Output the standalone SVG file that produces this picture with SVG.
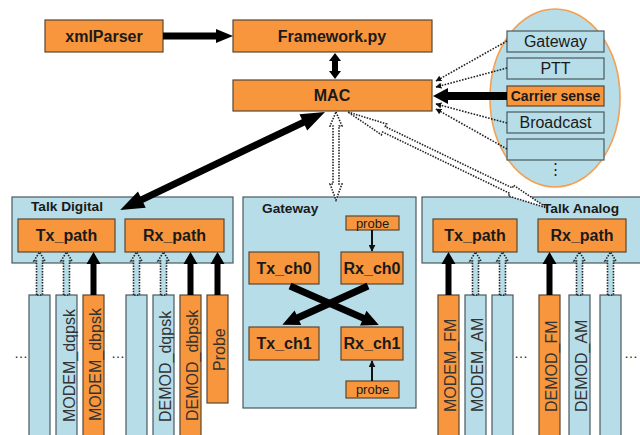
<svg xmlns="http://www.w3.org/2000/svg" width="640" height="435" viewBox="0 0 640 435">
<defs>
<style>
.or{fill:#F7963C;stroke:#5a4632;stroke-width:1.2}
.bl{fill:#B7DDE8;stroke:#4a5a60;stroke-width:1.2}
.t{font-family:"Liberation Sans",Arial,sans-serif;fill:#1a1a1a}
.b{font-weight:bold}
.c{text-anchor:middle}
.vt{font-family:"Liberation Sans",Arial,sans-serif;font-size:16px;fill:#333}
.sa{fill:#000;stroke:none}
.da{fill:#B7DDE8;stroke:#222;stroke-width:1.6;stroke-dasharray:1.5 1.3}
.dw{fill:#fff;stroke:#222;stroke-width:1.6;stroke-dasharray:1.5 1.3}
.dl{fill:none;stroke:#222;stroke-width:1.6;stroke-dasharray:1.6 1.4}
</style>
<marker id="sm" viewBox="0 0 10 10" refX="9" refY="5" markerWidth="6" markerHeight="6" orient="auto" markerUnits="userSpaceOnUse"><path d="M0,0 L10,5 L0,10 Z" fill="#111"/></marker>
<marker id="pm" viewBox="0 0 10 10" refX="9" refY="5" markerWidth="7" markerHeight="7" orient="auto" markerUnits="userSpaceOnUse"><path d="M0,0 L10,5 L0,10 Z" fill="#111"/></marker>
</defs>
<rect width="640" height="435" fill="#fff"/>

<ellipse cx="555" cy="98" rx="65" ry="89" fill="#B7DDE8" stroke="#F4A050" stroke-width="1.6"/>

<g id="xmlParser"><rect class="or" x="45" y="20" width="118" height="32"/><text class="t b c" x="104" y="42" font-size="16">xmlParser</text></g>
<g id="framework"><rect class="or" x="233" y="20" width="199" height="32"/><text class="t b c" x="332" y="42" font-size="16">Framework.py</text></g>
<g id="mac"><rect class="or" x="233" y="80" width="199" height="31"/><text class="t b c" x="332" y="101" font-size="16">MAC</text></g>

<g id="opt-gateway"><rect class="bl" x="507" y="31" width="97" height="21"/><text class="t c" x="555.5" y="47" font-size="16" fill="#333">Gateway</text></g>
<g id="opt-ptt"><rect class="bl" x="507" y="58" width="97" height="21"/><text class="t c" x="555.5" y="74" font-size="16" fill="#333">PTT</text></g>
<g id="opt-carrier"><rect class="or" x="507" y="86" width="97" height="20"/><text class="t b c" x="555.5" y="101" font-size="14">Carrier sense</text></g>
<g id="opt-broadcast"><rect class="bl" x="507" y="112" width="97" height="21"/><text class="t c" x="555.5" y="128" font-size="16" fill="#333">Broadcast</text></g>
<g id="opt-empty"><rect class="bl" x="507" y="139" width="97" height="21"/></g>
<text class="t c" x="555" y="174" font-size="15">⋮</text>

<g id="talk-digital">
<rect class="bl" x="12" y="197" width="221" height="66"/>
<text class="t b" x="31" y="211" font-size="13.7">Talk Digital</text>
<rect class="or" x="18" y="219" width="97" height="33"/><text class="t b c" x="66.5" y="241" font-size="16">Tx_path</text>
<rect class="or" x="125" y="219" width="99" height="33"/><text class="t b c" x="174.5" y="241" font-size="16">Rx_path</text>
</g>

<g id="gateway">
<rect class="bl" x="243" y="197" width="173" height="211"/>
<text class="t b" x="262" y="213" font-size="13.7">Gateway</text>
<rect class="or" x="346" y="216" width="53" height="14"/><text class="t c" x="372.5" y="227.5" font-size="13" fill="#333">probe</text>
<rect class="or" x="249" y="252" width="70" height="32"/><text class="t b c" x="284" y="274" font-size="16">Tx_ch0</text>
<rect class="or" x="341" y="252" width="62" height="32"/><text class="t b c" x="372" y="274" font-size="16">Rx_ch0</text>
<rect class="or" x="249" y="327" width="70" height="33"/><text class="t b c" x="284" y="349" font-size="16">Tx_ch1</text>
<rect class="or" x="341" y="327" width="62" height="33"/><text class="t b c" x="372" y="349" font-size="16">Rx_ch1</text>
<rect class="or" x="346" y="381" width="53" height="17"/><text class="t c" x="372.5" y="394" font-size="13" fill="#333">probe</text>
</g>

<g id="talk-analog">
<rect class="bl" x="422" y="197" width="220" height="66"/>
<text class="t b" x="543" y="213" font-size="13.7">Talk Analog</text>
<rect class="or" x="433" y="219" width="84" height="33"/><text class="t b c" x="475" y="241" font-size="16">Tx_path</text>
<rect class="or" x="538" y="219" width="88" height="33"/><text class="t b c" x="582" y="241" font-size="16">Rx_path</text>
</g>

<g id="d-bar1"><rect class="bl" x="29" y="295" width="21" height="145"/></g>
<g id="modem-dqpsk"><rect class="bl" x="56" y="295" width="21" height="145"/><text class="vt" transform="translate(75,422) rotate(-90)">MODEM_dqpsk</text></g>
<g id="modem-dbpsk"><rect class="or" x="83" y="295" width="21" height="145"/><text class="vt" transform="translate(101,421) rotate(-90)">MODEM_dbpsk</text></g>
<g id="d-bar4"><rect class="bl" x="126" y="295" width="21" height="145"/></g>
<g id="demod-dqpsk"><rect class="bl" x="153" y="295" width="21" height="145"/><text class="vt" transform="translate(171,422) rotate(-90)">DEMOD_dqpsk</text></g>
<g id="demod-dbpsk"><rect class="or" x="180" y="295" width="21" height="145"/><text class="vt" transform="translate(198,421) rotate(-90)">DEMOD_dbpsk</text></g>
<g id="probe-bar"><rect class="or" x="207" y="295" width="21" height="108"/><text class="vt" transform="translate(225,371) rotate(-90)">Probe</text></g>
<text class="t" x="14" y="358" font-size="14" fill="#333">…</text>
<text class="t" x="111" y="358" font-size="14" fill="#333">…</text>

<g id="modem-fm"><rect class="or" x="438" y="295" width="21" height="145"/><text class="vt" transform="translate(456,412) rotate(-90)">MODEM_FM</text></g>
<g id="modem-am"><rect class="bl" x="465" y="295" width="21" height="145"/><text class="vt" transform="translate(483,412) rotate(-90)">MODEM_AM</text></g>
<g id="a-bar3"><rect class="bl" x="492" y="295" width="21" height="145"/></g>
<g id="demod-fm"><rect class="or" x="539" y="295" width="21" height="145"/><text class="vt" transform="translate(557,412) rotate(-90)">DEMOD_FM</text></g>
<g id="demod-am"><rect class="bl" x="569" y="295" width="21" height="145"/><text class="vt" transform="translate(587,412) rotate(-90)">DEMOD_AM</text></g>
<g id="a-bar6"><rect class="bl" x="600" y="295" width="21" height="145"/></g>
<text class="t" x="514" y="358" font-size="14" fill="#333">…</text>
<text class="t" x="624" y="358" font-size="14" fill="#333">…</text>

<g id="connectors">
<polygon class="sa" points="163,32.5 216,32.5 216,29 233,36 216,43 216,39.5 163,39.5"/>
<polygon class="sa" points="335,53 341,61 338,61 338,71 341,71 335,79 329,71 332,71 332,61 329,61"/>
<polygon class="sa" points="507,92 448,92 448,88 433,96 448,104 448,100 507,100"/>
<line class="dl" x1="507" y1="41" x2="436" y2="81" marker-end="url(#sm)"/>
<line class="dl" x1="507" y1="68" x2="436" y2="87" marker-end="url(#sm)"/>
<line class="dl" x1="507" y1="123" x2="436" y2="104" marker-end="url(#sm)"/>
<line class="dl" x1="507" y1="149" x2="436" y2="109" marker-end="url(#sm)"/>
<g transform="translate(325,112) rotate(154.45)"><polygon class="sa" points="0,0 24,-9 24,-3.5 203,-3.5 203,-9 227,0 203,9 203,3.5 24,3.5 24,9"/></g>
<polygon class="dw" points="336,112 342,126 339,126 339,184 342,184 336,200 330,184 333,184 333,126 330,126"/>
<g transform="translate(348,112) rotate(25.75)"><polygon class="dw" points="0,0 40,-6 40,-3 181,-3 181,-6 221,0 181,6 181,3 40,3 40,6"/></g>
<polygon class="da" points="36.5,295 36.5,261 34,261 39.5,252 45,261 42.5,261 42.5,295"/>
<polygon class="da" points="63.5,295 63.5,261 61,261 66.5,252 72,261 69.5,261 69.5,295"/>
<polygon class="sa" points="90.5,295 90.5,264 86.5,264 93.5,252 100.5,264 96.5,264 96.5,295"/>
<polygon class="da" points="133.5,295 133.5,261 131,261 136.5,252 142,261 139.5,261 139.5,295"/>
<polygon class="da" points="160.5,295 160.5,261 158,261 163.5,252 169,261 166.5,261 166.5,295"/>
<polygon class="sa" points="187.5,295 187.5,264 183.5,264 190.5,252 197.5,264 193.5,264 193.5,295"/>
<polygon class="sa" points="214.5,295 214.5,264 210.5,264 217.5,252 224.5,264 220.5,264 220.5,295"/>
<polygon class="sa" points="445.5,295 445.5,264 441.5,264 448.5,252 455.5,264 451.5,264 451.5,295"/>
<polygon class="da" points="472.5,295 472.5,261 470,261 475.5,252 481,261 478.5,261 478.5,295"/>
<polygon class="da" points="499.5,295 499.5,261 497,261 502.5,252 508,261 505.5,261 505.5,295"/>
<polygon class="sa" points="546.5,295 546.5,264 542.5,264 549.5,252 556.5,264 552.5,264 552.5,295"/>
<polygon class="da" points="576.5,295 576.5,261 574,261 579.5,252 585,261 582.5,261 582.5,295"/>
<polygon class="da" points="607.5,295 607.5,261 605,261 610.5,252 616,261 613.5,261 613.5,295"/>
<line x1="372" y1="230" x2="372" y2="251" stroke="#111" stroke-width="2" marker-end="url(#pm)"/>
<line x1="372" y1="381" x2="372" y2="361" stroke="#111" stroke-width="2" marker-end="url(#pm)"/>
<g transform="translate(290,286) rotate(23.66)"><polygon class="sa" points="0,-3.5 80,-3.5 80,-8 97,0 80,8 80,3.5 0,3.5"/></g>
<g transform="translate(368,286) rotate(155.6)"><polygon class="sa" points="0,-3.5 77,-3.5 77,-8 94,0 77,8 77,3.5 0,3.5"/></g>
</g>
</svg>
